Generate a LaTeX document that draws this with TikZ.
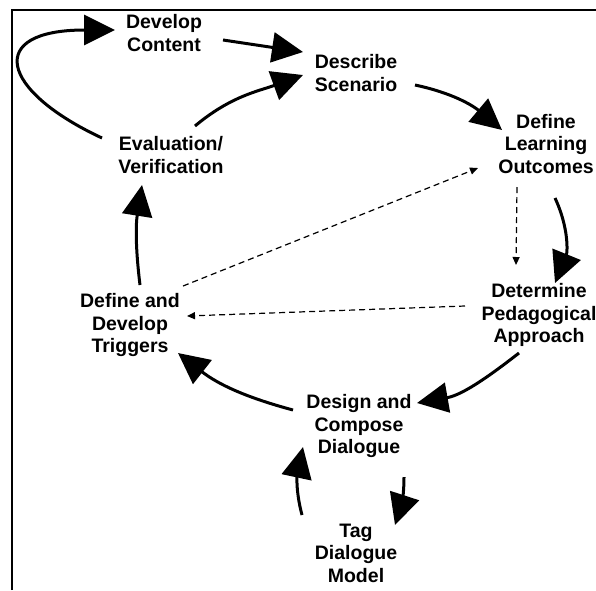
\documentclass[tikz,border=0pt]{standalone}
\usepackage{fontspec}
\newfontfamily\stagefont{Liberation Sans}
\usetikzlibrary{arrows.meta}
\tikzset{
   stage/.style={font=\stagefont\bfseries\fontsize{19.5}{22.5}\selectfont,
      align=center, inner sep=0pt},
   flow/.style={line width=3pt, -{Triangle[length=31pt,width=30pt]}},
   hint/.style={line width=1.2pt, dash pattern=on 6pt off 4pt,
      -{Triangle[length=8pt,width=7pt]}},
    }
\begin{document}
\begin{tikzpicture}[x=1pt,y=1pt]
            \useasboundingbox (0,0) rectangle (596,-590);
            \clip (0,0) rectangle (596,-590);
            \draw[line width=2.5pt] (12,-590) -- (12,-10) -- (596,-10);
            \node[stage] (dev) at(164,-33) {Develop\\Content};
            \node[stage] (desc) at(356,-73) {Describe\\Scenario};
            \node[stage] (outc) at(546,-144) {Define\\Learning\\Outcomes};
            \node[stage] (ped) at(539,-315) {Determine\\Pedagogical\\Approach};
            \node[stage] (dial) at(359,-426) {Design and\\Compose\\Dialogue};
            \node[stage] (tag) at(356,-553) {Tag\\Dialogue\\Model};
            \node[stage] (trig) at(130,-325) {Define and\\Develop\\Triggers};
            \node[stage] (eval) at(171,-155) {Evaluation/\\Verification};
            \draw[flow] ([shift={(-69,17)}]eval.center) to[out=155,in=180,out distance=113pt,in distance=130pt] ([shift={(-49,3)}]dev.center);
            \draw[flow] ([shift={(59,-7)}]dev.center) -- ([shift={(-53,21)}]desc.center);
            \draw[flow] ([shift={(24,29)}]eval.center) to[out=40,in=200] ([shift={(-53,-2)}]desc.center);
            \draw[flow] ([shift={(59,-12)}]desc.center) to[out=-12,in=140] ([shift={(-44,14)}]outc.center);
            \draw[flow] ([shift={(9,-54)}]outc.center) to[out=-65,in=68] ([shift={(16,32)}]ped.center);
            \draw[flow] ([shift={(-20,-38)}]ped.center) to[out=218,in=10] ([shift={(58,23)}]dial.center);
            \draw[flow] ([shift={(-66,16)}]dial.center) to[out=165,in=-38] ([shift={(48,-28)}]trig.center);
            \draw[flow] ([shift={(10,40)}]trig.center) to[out=97,in=-99] ([shift={(-29,-30)}]eval.center);
            \draw[flow] ([shift={(45,-51)}]dial.center) to[out=-90,in=72] ([shift={(39,28)}]tag.center);
            \draw[flow] ([shift={(-54,38)}]tag.center) to[out=105,in=-102] ([shift={(-56,-21)}]dial.center);
            \draw[hint] ([shift={(53,39)}]trig.center) -- ([shift={(-68,-24)}]outc.center);
            \draw[hint] ([shift={(-74,9)}]ped.center) -- ([shift={(57,9)}]trig.center);
            \draw[hint] ([shift={(-29,-43)}]outc.center) -- ([shift={(-23,50)}]ped.center);
        \end{tikzpicture}
\end{document}
